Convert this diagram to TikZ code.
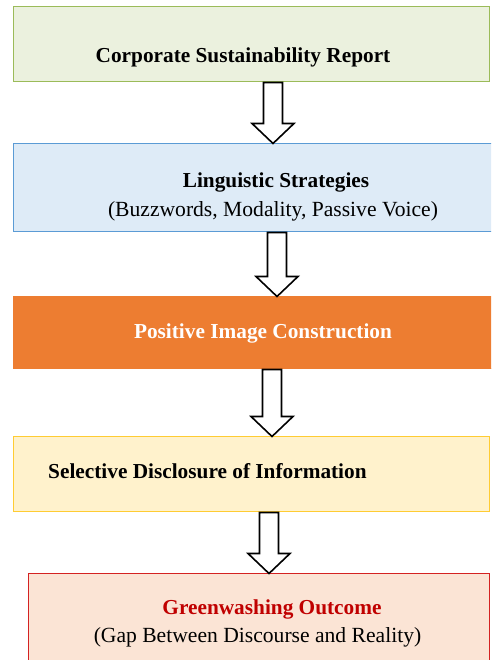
\documentclass[tikz,border=0pt]{standalone}
\usepackage{fontspec}
\setmainfont{Liberation Serif}
\usetikzlibrary{calc}

\definecolor{reportfill}{HTML}{EBF1DE}
\definecolor{reportline}{HTML}{9BBB59}
\definecolor{stratfill}{HTML}{DEEBF7}
\definecolor{stratline}{HTML}{5B9BD5}
\definecolor{imagefill}{HTML}{ED7D31}
\definecolor{selectfill}{HTML}{FFF2CC}
\definecolor{selectline}{HTML}{FFCC33}
\definecolor{outfill}{HTML}{FBE4D5}
\definecolor{outline}{HTML}{D42222}
\definecolor{outtext}{HTML}{C00000}

\tikzset{
  stage/.style={rectangle, line width=1pt, inner sep=0pt},
  title/.style={anchor=base, inner sep=0pt, font=\fontsize{21.3}{25}\selectfont\bfseries},
  subtitle/.style={anchor=base, inner sep=0pt, font=\fontsize{21.6}{25}\selectfont},
  fatarrow/.style={draw=black, fill=white, line width=1.6pt, line join=miter}
}

\begin{document}
\begin{tikzpicture}[x=1pt, y=1pt]
  \useasboundingbox (0,0) rectangle (491,660);
  \clip (0,0) rectangle (491,660);

  % Cajas de las etapas
  \node[stage, draw=reportline, fill=reportfill, minimum width=476pt, minimum height=75pt]
        (report) at (251,615.5) {};
  \node[stage, draw=stratline, fill=stratfill, minimum width=482pt, minimum height=88pt]
        (strat) at (254,472) {};
  \node[stage, draw=imagefill, fill=imagefill, minimum width=482pt, minimum height=72pt]
        (image) at (254,327) {};
  \node[stage, draw=selectline, fill=selectfill, minimum width=476pt, minimum height=75pt]
        (select) at (251,185.5) {};
  \node[stage, draw=outline, fill=outfill, minimum width=461pt, minimum height=106pt]
        (outcome) at (258.5,33) {};

  % Textos
  \node[title] (reporttxt) at (243,597) {Corporate Sustainability Report};
  \node[title] (strattxt) at (276,472) {Linguistic Strategies};
  \node[subtitle] (stratsub) at (273,443) {(Buzzwords, Modality, Passive Voice)};
  \node[title, text=white] (imagetxt) at (263,321) {Positive Image Construction};
  \node[title, anchor=base west] (selecttxt) at (48,181) {Selective Disclosure of Information};
  \node[title, text=outtext] (outtxt) at (272,45) {Greenwashing Outcome};
  \node[subtitle] (outsub) at (257.5,17) {(Gap Between Discourse and Reality)};

  % Flechas de bloque entre etapas
  \foreach \from/\to/\ax in {report/strat/273, strat/image/277, image/select/272, select/outcome/269}
    \draw[fatarrow] let \p1=(\from.south), \p2=(\to.north) in
      (\ax pt-9.5pt,\y1) -- (\ax pt+9.5pt,\y1) -- (\ax pt+9.5pt,\y2+20pt)
      -- (\ax pt+21pt,\y2+20pt) -- (\ax pt,\y2) -- (\ax pt-21pt,\y2+20pt)
      -- (\ax pt-9.5pt,\y2+20pt) -- cycle;
\end{tikzpicture}
\end{document}
